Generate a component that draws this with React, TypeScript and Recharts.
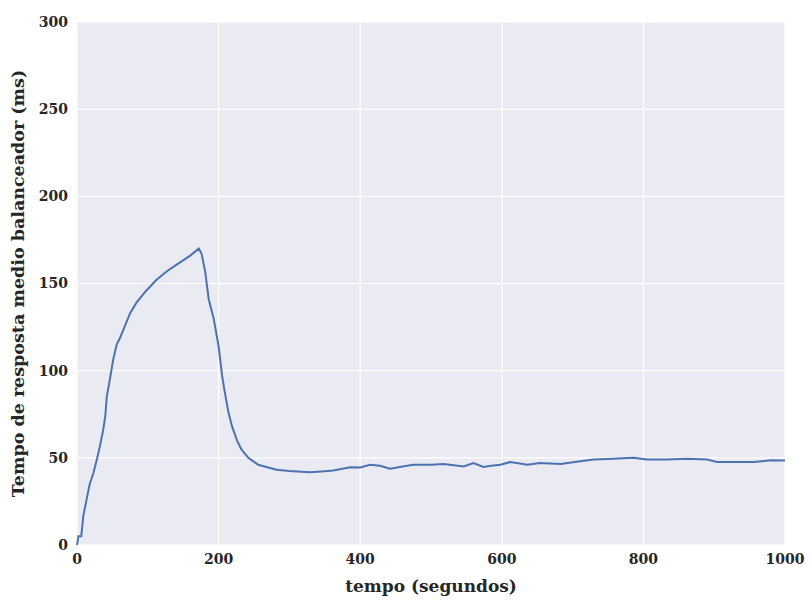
import React from "react";
import { LineChart, Line, XAxis, YAxis, CartesianGrid, Label } from "recharts";

const timeSeconds = [
  0, 2, 6, 9, 13, 18, 23, 28, 32, 37, 40, 42, 46, 51, 56, 61, 68, 75, 84, 98,
  112, 127, 145, 160, 172, 176, 181, 186, 193, 200, 205, 209, 214, 219, 226,
  232, 242, 256, 270, 282, 300, 329, 345, 362, 386, 400, 414, 428, 442, 460,
  475, 500, 518, 546, 560, 574, 585, 598, 612, 636, 654, 683, 711, 730, 758,
  786, 805, 833, 862, 890, 904, 928, 956, 980, 1000,
];
const responseMs = [
  0, 5, 5, 17, 25, 35, 41, 49, 56, 66, 74, 85, 94, 106, 115, 119, 126, 133,
  139, 146, 152, 157, 162, 166, 170, 167, 157, 141, 130, 114, 97, 87, 76, 68,
  60, 55, 50, 46, 44.5, 43.2, 42.5, 41.7, 42.2, 42.8, 44.6, 44.5, 46, 45.5,
  43.8, 45, 46, 46, 46.5, 45, 47, 44.8, 45.5, 46, 47.6, 46, 47, 46.5, 48, 49,
  49.5, 50, 49, 49, 49.5, 49, 47.6, 47.6, 47.6, 48.6, 48.4,
];
const xTicks = [0, 200, 400, 600, 800, 1000];
const yTicks = [0, 50, 100, 150, 200, 250, 300];

const data = timeSeconds.map((t, i) => ({ t, v: responseMs[i] }));

const tickStyle = {
  fontFamily: "DejaVu Serif",
  fontWeight: 700,
  fontSize: 14,
  fill: "#262626",
};

export default function App() {
  return (
    <div style={{ position: "absolute", left: 0, top: 0 }}>
      <LineChart
        width={810}
        height={604}
        data={data}
        margin={{ top: 22, right: 25, bottom: 0, left: 0 }}
      >
        <CartesianGrid
          stroke="#ffffff"
          strokeWidth={1.2}
          fill="#eaeaf2"
          horizontalValues={yTicks}
          verticalValues={xTicks}
        />
        <XAxis
          dataKey="t"
          type="number"
          domain={[0, 1000]}
          ticks={xTicks}
          axisLine={false}
          tickLine={false}
          tickSize={6}
          tickMargin={3}
          tick={tickStyle}
          height={59}
        >
          <Label
            value="tempo (segundos)"
            position="insideBottom"
            offset={12}
            style={{
              fontFamily: "DejaVu Serif",
              fontWeight: 700,
              fontSize: 17,
              fill: "#262626",
            }}
          />
        </XAxis>
        <YAxis
          type="number"
          domain={[0, 300]}
          ticks={yTicks}
          axisLine={false}
          tickLine={false}
          tickSize={6}
          tickMargin={3}
          tick={tickStyle}
          width={77}
        >
          <Label
            value="Tempo de resposta medio balanceador (ms)"
            angle={-90}
            position="insideLeft"
            offset={18}
            style={{
              fontFamily: "DejaVu Serif",
              fontWeight: 700,
              fontSize: 17.5,
              fill: "#262626",
              textAnchor: "middle",
            }}
          />
        </YAxis>
        <Line
          type="linear"
          dataKey="v"
          stroke="#4c72b0"
          strokeWidth={2}
          dot={false}
          isAnimationActive={false}
        />
      </LineChart>
    </div>
  );
}
